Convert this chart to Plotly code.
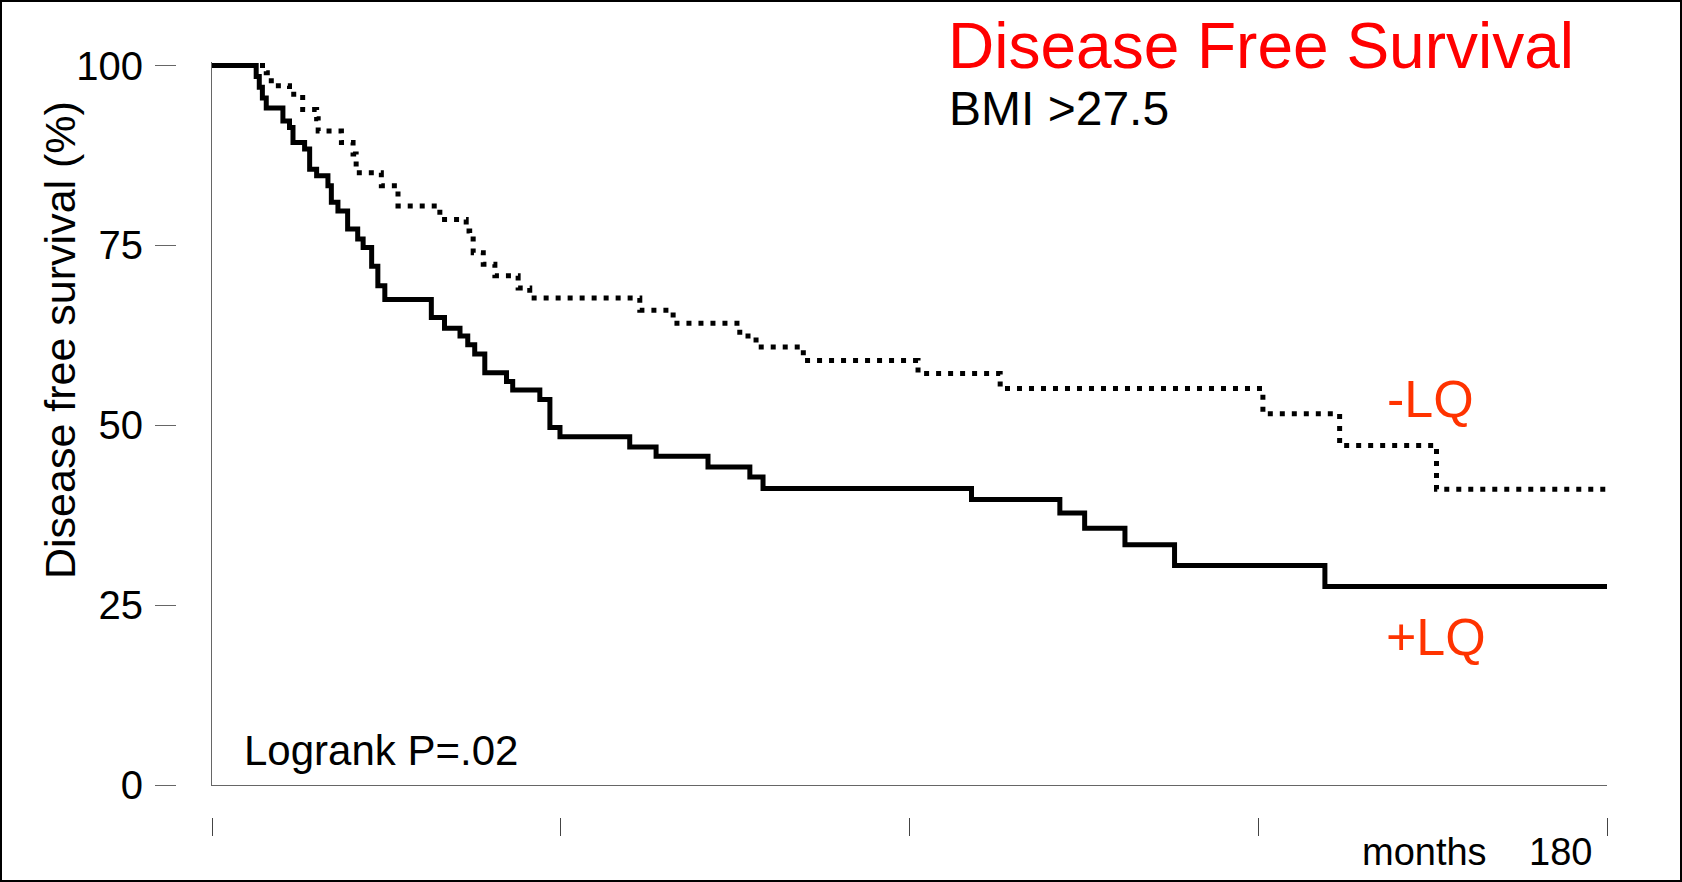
import plotly.graph_objects as go

# Kaplan-Meier step data (month of event, survival % after event)
plus_lq_months = [0, 5.7, 6.1, 6.5, 7.0, 9.15, 10.0, 10.45, 11.95, 12.6, 13.5, 14.96, 15.4, 16.25,
                  17.5, 18.8, 19.5, 20.6, 21.4, 22.3, 28.3, 30.0, 32.0, 33.0, 33.9, 35.2, 38.0,
                  38.8, 42.3, 43.6, 44.9, 53.9, 57.3, 64.0, 69.4, 71.1, 98.0, 109.4, 112.6,
                  117.8, 124.2, 143.6, 180]
plus_lq_surv = [100, 98.5, 97.0, 95.5, 94.1, 92.3, 91.4, 89.3, 88.4, 85.6, 84.7, 83.3, 81.0, 79.8,
                77.3, 75.9, 74.7, 72.1, 69.4, 67.5, 65.0, 63.5, 62.4, 61.2, 59.9, 57.3, 56.1,
                54.9, 53.6, 49.7, 48.4, 47.0, 45.7, 44.2, 42.8, 41.2, 39.7, 37.8, 35.7,
                33.4, 30.5, 27.6, 27.6]

minus_lq_months = [0, 7.0, 7.65, 10.0, 11.7, 13.5, 13.7, 16.7, 18.2, 18.6, 21.85, 24.0, 29.4,
                   32.8, 33.25, 33.7, 35.0, 36.5, 39.5, 41.0, 55.2, 59.5, 68.1, 70.2, 76.3,
                   91.1, 101.7, 135.6, 145.5, 158.0, 180]
minus_lq_surv = [100, 99.0, 97.2, 96.0, 93.9, 92.6, 90.9, 89.3, 87.7, 85.1, 83.3, 80.5, 78.6,
                 77.0, 75.9, 74.0, 72.4, 70.8, 69.1, 67.7, 66.0, 64.2, 62.4, 60.9, 59.0,
                 57.2, 55.1, 51.6, 47.2, 41.1, 41.1]

x_ticks = [0, 45, 90, 135, 180]
y_ticks = [0, 25, 50, 75, 100]

FONT = "Liberation Sans, Arial, Helvetica, sans-serif"

W, H = 1682, 882
L, R, T, B = 176, 1607, 62, 817  # plot-area pixel box
PW, PH = R - L, B - T


def px(X):
    return (X - L) / PW


def py(Y):
    return (B - Y) / PH


fig = go.Figure()
fig.add_trace(go.Scatter(x=minus_lq_months, y=minus_lq_surv, mode="lines", line_shape="hv",
                         line=dict(color="black", width=5, dash="5px,7px"),
                         showlegend=False, hoverinfo="skip"))
fig.add_trace(go.Scatter(x=plus_lq_months, y=plus_lq_surv, mode="lines", line_shape="hv",
                         line=dict(color="black", width=5),
                         showlegend=False, hoverinfo="skip"))
# invisible trace so the detached tick axes are drawn
fig.add_trace(go.Scatter(x=plus_lq_months, y=plus_lq_surv, xaxis="x2", yaxis="y2",
                         mode="lines", line=dict(width=0), opacity=0,
                         showlegend=False, hoverinfo="skip"))

xr = [0, 180]
yr = [0, 100.5]
xdom = [px(212), 1]
ydom = [py(785), 1]

fig.update_layout(
    width=W, height=H,
    margin=dict(l=L, r=W - R, t=T, b=H - B, pad=0),
    paper_bgcolor="white", plot_bgcolor="white",
    font=dict(family=FONT, color="black"),
    xaxis=dict(domain=xdom, range=xr, showline=True, linecolor="#666", linewidth=1,
               ticks="", showticklabels=False, showgrid=False, zeroline=False),
    yaxis=dict(domain=ydom, range=yr, showline=True, linecolor="#666", linewidth=1,
               ticks="", showticklabels=False, showgrid=False, zeroline=False),
    xaxis2=dict(overlaying="x", anchor="free", position=0, side="bottom", range=xr,
                tickvals=x_ticks, ticks="outside", ticklen=18, tickcolor="#444", tickwidth=1,
                showticklabels=False, showline=False, showgrid=False, zeroline=False),
    yaxis2=dict(overlaying="y", anchor="free", position=0, side="left", range=yr,
                tickvals=y_ticks, ticktext=[str(v) for v in y_ticks], ticks="outside",
                ticklen=21, tickcolor="#666", tickwidth=1, ticklabelstandoff=4,
                tickfont=dict(size=40, family=FONT, color="black"),
                showline=False, showgrid=False, zeroline=False),
)

ann = [
    dict(text="Disease Free Survival", x=px(946), y=py(46), font=dict(size=64, color="#FF0000")),
    dict(text="BMI >27.5", x=px(947), y=py(109), font=dict(size=48, color="black")),
    dict(text="-LQ", x=px(1385), y=py(399), font=dict(size=52, color="#FF3300")),
    dict(text="+LQ", x=px(1384), y=py(637), font=dict(size=52, color="#FF3300")),
    dict(text="Logrank P=.02", x=px(242), y=py(750), font=dict(size=42, color="black")),
    dict(text="months", x=px(1360), y=py(852), font=dict(size=38, color="black")),
    dict(text="180", x=px(1527), y=py(852), font=dict(size=38, color="black")),
]
for a in ann:
    fig.add_annotation(xref="paper", yref="paper", xanchor="left", yanchor="middle",
                       showarrow=False, font_family=FONT, **a)

fig.add_annotation(text="Disease free survival (%)", xref="paper", yref="paper",
                   x=px(60), y=py(340), xanchor="center", yanchor="middle", textangle=-90,
                   showarrow=False, font=dict(size=43, family=FONT, color="black"))

# figure border
fig.add_shape(type="rect", xref="paper", yref="paper",
              x0=px(1), x1=px(1681), y0=py(881), y1=py(1),
              line=dict(color="black", width=2), fillcolor="rgba(0,0,0,0)", layer="above")

fig.write_html("out.html", config={"displayModeBar": False},
               post_script="document.body.style.margin='0';document.body.style.overflow='hidden';")
